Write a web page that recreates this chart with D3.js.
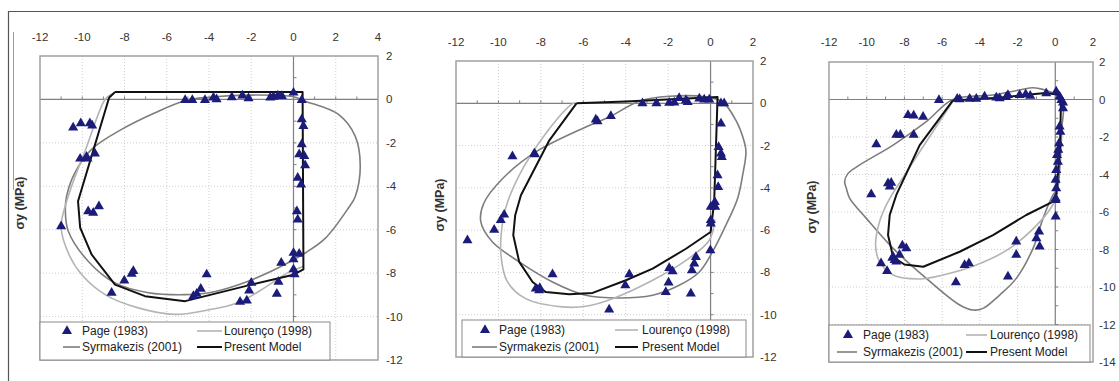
<!DOCTYPE html>
<html>
<head>
<meta charset="utf-8">
<script src="https://cdn.jsdelivr.net/npm/d3@7"></script>
<style>
  body { margin: 0; background: #fff; }
  svg { display: block; font-family: "Liberation Sans", Arial, sans-serif; }
</style>
</head>
<body>
<svg id="chart" width="1119" height="381"></svg>
<script>
// ---- data (sigma_x, sigma_y) in MPa ----
const legendLabels = ["Page (1983)", "Lourenço (1998)", "Syrmakezis (2001)", "Present Model"];
const xTicksA = [-12, -10, -8, -6, -4, -2, 0, 2, 4];
const xTicksBC = [-12, -10, -8, -6, -4, -2, 0, 2];
const yTicksAB = [2, 0, -2, -4, -6, -8, -10, -12];
const yTicksC = [2, 0, -2, -4, -6, -8, -10, -12, -14];

// (a)
const pageA = [[-10.43,-1.3],[-10.07,-1.1],[-9.64,-1.1],[-9.53,-1.2],
  [-10.1,-2.73],[-9.8,-2.64],[-9.75,-2.73],[-9.4,-2.49],
  [-5.13,-0.03],[-4.79,-0.03],[-4.19,-0.03],[-3.79,0.08],[-3.64,0],[-2.92,0.1],[-2.42,0.18],[-2.13,0.05],
  [-1.1,0.08],[-0.95,0.12],[-0.74,0.18],[-0.55,0.15],[0,0.31],[0.39,-0.03],
  [0.39,-0.92],[0.47,-1.23],[0.39,-2.07],[0.27,-2.53],[0.51,-2.61],[0.55,-3.04],[0.2,-3.61],[0.36,-3.92],
  [-9.72,-5.15],[-9.48,-5.22],[-9.21,-4.92],[-11.0,-5.84],
  [0.16,-5.15],[0.2,-5.53],[0,-7.07],[0.27,-7.11],[0,-7.37],[0,-7.83],[0.05,-8.06],[-0.58,-7.52],[-0.71,-8.4],[-0.79,-8.95],
  [-7.58,-7.91],[-7.66,-8.03],[-8.01,-8.34],[-8.61,-8.91],
  [-4.11,-8.06],[-4.39,-8.72],[-4.58,-8.95],[-4.74,-9.06],
  [-2.0,-8.45],[-2.1,-8.8],[-2.21,-9.26],[-2.53,-9.32]];
const lourencoA = [[-8.6,0.25],[-8.92,0],[-9.8,-2.2],[-10.66,-4.45],[-11.0,-5.9],[-10.6,-7.2],[-10.0,-8.1],
  [-8.9,-9.0],[-7.35,-9.6],[-5.6,-9.9],[-4.18,-9.72],[-2.6,-9.35],[-1.25,-8.6],[-0.3,-8.0],[0.45,-7.7]];
const syrmakezisA = [[-5.1,-0.05],[-4,0.1],[-2,0.2],[0,0.12],[0.55,-0.08],[2.13,-0.69],[2.92,-1.69],[3.16,-3.07],
  [2.92,-4.48],[2.6,-5.0],[1.5,-6.4],[0.55,-7.07],[-1.03,-7.9],[-2.6,-8.53],[-4.0,-8.9],[-5.13,-8.99],[-6.87,-8.9],
  [-8.45,-8.45],[-9.72,-7.45],[-10.66,-6.07],[-10.8,-5.15],[-10.74,-4.45],[-10.35,-3.38],[-9.56,-2.3],[-8.14,-1.38],[-6.55,-0.61]];
const presentA = [[-8.45,0.34],[0.43,0.34],[0.47,-7.83],[0,-8.07],[-1.99,-8.53],[-5.13,-9.29],[-7.03,-9.06],
  [-8.45,-8.53],[-9.56,-7.14],[-10.1,-5.9],[-10.2,-4.69],[-8.73,0.08],[-8.45,0.34]];

// (b)
const pageB = [[-9.34,-2.51],[-8.31,-2.38],[-8.28,-2.41],
  [-5.41,-0.77],[-5.33,-0.85],[-4.7,-0.6],
  [-3.21,0],[-2.55,0],[-1.95,0.02],[-1.71,0.03],[-1.48,0.25],[-1.16,0.14],[-1.08,0.06],[-0.53,0.22],[-0.3,0.17],[-0.06,0.17],[0.49,0],[0.64,0],
  [0.49,-0.96],[0.38,-2.07],[0.49,-2.38],[0.53,-2.54],[0.33,-3.41],[0.36,-3.96],[0.2,-4.67],
  [0.22,-4.9],[0.01,-4.9],[0.01,-5.53],[0.01,-5.69],[-0.01,-6.95],
  [-11.46,-6.48],[-10.2,-5.98],[-9.89,-5.53],[-9.73,-5.27],
  [-8.24,-8.77],[-8.08,-8.85],[-8.05,-8.74],[-7.45,-8.09],
  [-3.83,-8.09],[-4.02,-8.61],[-4.78,-9.76],
  [-1.95,-7.79],[-1.79,-7.95],[-1.98,-8.48],[-2.11,-8.93],
  [-0.69,-7.27],[-0.77,-7.58],[-0.88,-7.9],[-0.93,-9.0]];
const lourencoB = [[-6.4,0.02],[-6.59,-0.08],[-7.77,-1.43],[-8.8,-3.0],[-9.57,-4.67],[-9.8,-5.6],[-9.88,-7.19],
  [-9.57,-8.45],[-8.71,-9.24],[-6.98,-9.63],[-5.88,-9.6],[-4.62,-9.24],[-2.73,-8.37],[-1.16,-7.43],[-0.06,-6.48],[0.2,-5.5]];
const syrmakezisB = [[-3.36,0.1],[-1.95,0.33],[-0.22,0.3],[0.57,0.06],[1.19,-0.8],[1.59,-1.83],[1.67,-2.3],[1.51,-3.41],
  [1.27,-4.51],[0.72,-5.77],[0.09,-7.03],[-0.53,-7.98],[-1.48,-8.61],[-2.73,-9.08],[-4.31,-9.21],[-5.88,-9.08],
  [-7.45,-8.45],[-9.02,-7.5],[-10.28,-6.56],[-10.83,-5.61],[-10.7,-4.75],[-9.8,-3.56],[-8.24,-2.3],[-5.88,-1.12],[-4.78,-0.65]];
const presentB = [[-6.32,0],[-4,0.08],[0.33,0.3],[0.17,-4.67],[0,-6.09],[-1.16,-6.88],[-2.73,-7.82],[-3.99,-8.37],
  [-5.56,-8.97],[-6.66,-9.03],[-7.77,-8.93],[-8.39,-8.45],[-9.02,-7.5],[-9.3,-6.24],[-9.21,-5.3],[-8.94,-4.35],[-7.6,-1.75],[-6.32,0]];

// (c)
const pageC = [[-6.17,-0.03],
  [-5.2,0.03],[-5.07,0.01],[-4.54,0.03],[-4.19,0.03],[-3.75,0.15],[-3.13,0.1],[-2.95,0.06],[-2.6,0.13],[-2.51,0.24],
  [-1.89,0.24],[-1.57,0.28],[-1.33,0.2],[-0.48,0.33],[0.05,0.42],[0.23,0.15],[0.32,-0.03],[0.41,-0.17],
  [-7.81,-0.83],[-7.51,-0.86],[-7.01,-0.92],[-8.43,-1.89],[-8.22,-1.89],[-7.51,-1.89],[-9.49,-2.39],
  [-8.87,-4.47],[-8.7,-4.44],[-8.78,-4.65],[-9.76,-5.06],
  [0.41,-0.47],[0.23,-1.45],[0.27,-1.72],[0.2,-2.34],[0.16,-2.69],[0.09,-2.96],[0.14,-3.32],[0.05,-3.76],
  [0.02,-4.29],[0.05,-4.74],[0.02,-5.27],[0.02,-5.36],[0.02,-6.25],
  [-9.24,-8.74],[-8.92,-9.15],
  [-8.6,-8.39],[-8.52,-8.56],[-8.43,-8.65],[-8.26,-8.29],[-8.11,-7.79],[-7.9,-7.94],[-8.64,-8.45],
  [-5.27,-9.75],[-4.81,-8.83],[-4.58,-8.74],[-2.51,-9.45],[-2.07,-7.58],[-2.07,-8.29],
  [-0.86,-7.05],[-1.0,-7.4],[-0.83,-7.85]];
const lourencoC = [[-5.4,-0.05],[-6.84,-2.25],[-8.1,-4.2],[-8.87,-5.45],[-9.32,-6.52],[-9.53,-7.76],[-9.32,-8.65],
  [-8.6,-9.36],[-7.19,-9.57],[-5.95,-9.36],[-4.19,-8.83],[-2.42,-7.94],[-0.65,-6.34],[-0.12,-5.6],[0.05,-5.2]];
const syrmakezisC = [[-5.43,0],[-3.3,0.24],[-1.89,0.51],[-1.18,0.63],[-0.65,0.54],[0.05,0.24],[0.41,-0.29],[0.35,-1.5],
  [0.25,-3.5],[0.1,-4.8],[-0.12,-5.09],[-0.65,-6.34],[-1.18,-7.94],[-2.07,-9.54],[-2.95,-10.43],[-3.83,-11.14],
  [-4.36,-11.23],[-5.07,-10.96],[-6.84,-9.54],[-8.6,-7.94],[-10.02,-6.34],[-10.9,-5.27],[-11.08,-4.74],[-11.17,-4.38],
  [-10.99,-3.94],[-10.37,-3.49],[-8.6,-2.43],[-6.84,-1.18]];
const presentC = [[-5.43,-0.05],[-3,0.1],[-1.5,0.25],[-0.5,0.35],[0.2,0.25],[0.3,-0.2],[0.25,-2.5],[0.05,-5.2],
  [-0.12,-5.45],[-1.54,-6.16],[-3.3,-7.23],[-5.07,-8.12],[-7.0,-8.92],[-8.0,-8.8],[-8.6,-8.4],[-8.87,-7.23],
  [-8.78,-6.16],[-8.43,-5.09],[-7.19,-2.43],[-5.43,-0.05]];

// ---- layout ----
const panels = [
  { page: pageA, lour: lourencoA, syrm: syrmakezisA, pres: presentA,
    xDom: [-12, 4], xRange: [40, 378], yDom: [2, -12], yRange: [56, 360],
    xTicks: xTicksA, yTicks: yTicksAB, topY: 41, rightX: 386, titleX: 20, titleY: 203,
    leg: { x: 40, y: 322, w: 290, h: 38, r1: 331, r2: 347, tri: 67, l1: [63, 80], t1: 82, l2: [197, 222], t2: 224 } },
  { page: pageB, lour: lourencoB, syrm: syrmakezisB, pres: presentB,
    xDom: [-12, 2], xRange: [456, 753], yDom: [2, -12], yRange: [61, 357],
    xTicks: xTicksBC, yTicks: yTicksAB, topY: 46, rightX: 760, titleX: 440, titleY: 205,
    leg: { x: 462, y: 320, w: 284, h: 37, r1: 330, r2: 347, tri: 485, l1: [472, 497], t1: 499, l2: [615, 638], t2: 642 } },
  { page: pageC, lour: lourencoC, syrm: syrmakezisC, pres: presentC,
    xDom: [-12, 2], xRange: [829, 1093], yDom: [2, -14], yRange: [62, 362],
    xTicks: xTicksBC, yTicks: yTicksC, topY: 46, rightX: 1099, titleX: 812, titleY: 207,
    leg: { x: 829, y: 325, w: 261, h: 37, r1: 335, r2: 352, tri: 848, l1: [837, 857], t1: 863, l2: [966, 987], t2: 990 } }
];

const svg = d3.select("#chart");
const navy = "#1b1b7a";

// outer frame of the scanned figure
svg.append("line").attr("x1", 8).attr("x2", 1119).attr("y1", 11.5).attr("y2", 11.5)
  .attr("stroke", "#555").attr("stroke-width", 1.2);
svg.append("line").attr("x1", 8.5).attr("x2", 8.5).attr("y1", 11).attr("y2", 381)
  .attr("stroke", "#555").attr("stroke-width", 1.2);
svg.append("line").attr("x1", 13.5).attr("x2", 13.5).attr("y1", 32).attr("y2", 190)
  .attr("stroke", "#999").attr("stroke-width", 1);

function drawPanel(p) {
  const x = d3.scaleLinear().domain(p.xDom).range(p.xRange);
  const y = d3.scaleLinear().domain(p.yDom).range(p.yRange);
  const g = svg.append("g");
  const [x0, x1] = p.xRange, [y0, y1] = p.yRange;

  // dotted grid
  g.selectAll(".gx").data(p.xTicks.slice(1, -1)).join("line")
    .attr("x1", d => x(d)).attr("x2", d => x(d)).attr("y1", y0).attr("y2", y1)
    .attr("stroke", "#cfcfcf").attr("stroke-dasharray", "1,2");
  g.selectAll(".gy").data(p.yTicks.slice(1, -1)).join("line")
    .attr("x1", x0).attr("x2", x1).attr("y1", d => y(d)).attr("y2", d => y(d))
    .attr("stroke", "#cfcfcf").attr("stroke-dasharray", "1,2");

  // zero axes with unit ticks
  g.append("line").attr("x1", x0).attr("x2", x1).attr("y1", y(0)).attr("y2", y(0))
    .attr("stroke", "#808080").attr("stroke-width", 1.2);
  g.append("line").attr("x1", x(0)).attr("x2", x(0)).attr("y1", y0).attr("y2", y1)
    .attr("stroke", "#808080").attr("stroke-width", 1.2);
  g.selectAll(".tx").data(d3.range(p.xDom[0] + 1, p.xDom[1])).join("line")
    .attr("x1", d => x(d)).attr("x2", d => x(d)).attr("y1", y(0) - 3).attr("y2", y(0))
    .attr("stroke", "#808080");
  g.selectAll(".ty").data(d3.range(p.yDom[1] + 1, p.yDom[0])).join("line")
    .attr("x1", x(0)).attr("x2", x(0) + 3).attr("y1", d => y(d)).attr("y2", d => y(d))
    .attr("stroke", "#808080");

  // plot frame
  g.append("rect").attr("x", x0).attr("y", y0).attr("width", x1 - x0).attr("height", y1 - y0)
    .attr("fill", "none").attr("stroke", "#a0a0a0").attr("stroke-width", 1.5);

  // model curves
  const smoothClosed = d3.line().x(d => x(d[0])).y(d => y(d[1])).curve(d3.curveCatmullRomClosed);
  const smooth = d3.line().x(d => x(d[0])).y(d => y(d[1])).curve(d3.curveCatmullRom);
  const straight = d3.line().x(d => x(d[0])).y(d => y(d[1]));
  g.append("path").attr("d", smoothClosed(p.syrm)).attr("fill", "none")
    .attr("stroke", "#7d7d7d").attr("stroke-width", 1.6);
  g.append("path").attr("d", smooth(p.lour)).attr("fill", "none")
    .attr("stroke", "#b4b4b4").attr("stroke-width", 1.6);
  g.append("path").attr("d", straight(p.pres)).attr("fill", "none")
    .attr("stroke", "#111").attr("stroke-width", 2).attr("stroke-linejoin", "round");

  // Page (1983) test points
  const tri = d3.symbol().type(d3.symbolTriangle).size(44);
  g.selectAll(".pt").data(p.page).join("path")
    .attr("d", tri).attr("fill", navy)
    .attr("transform", d => `translate(${x(d[0])},${y(d[1])})`);

  // tick labels: top x, right y
  g.selectAll(".lx").data(p.xTicks).join("text")
    .attr("x", d => x(d)).attr("y", p.topY).attr("text-anchor", "middle")
    .attr("font-size", 11.5).attr("fill", "#333").text(d => d);
  g.selectAll(".ly").data(p.yTicks).join("text")
    .attr("x", p.rightX).attr("y", d => y(d) + 4).attr("text-anchor", "start")
    .attr("font-size", 11.5).attr("fill", "#333").text(d => d);

  // axis title
  g.append("text").attr("transform", `translate(${p.titleX},${p.titleY}) rotate(-90)`)
    .attr("text-anchor", "middle").attr("dy", "0.35em")
    .attr("font-size", 12.5).attr("font-weight", "bold").attr("fill", "#333").text("σy (MPa)");

  // legend
  const L = p.leg;
  const lg = g.append("g");
  lg.append("rect").attr("x", L.x).attr("y", L.y).attr("width", L.w).attr("height", L.h)
    .attr("fill", "#fff").attr("stroke", "#8a8a8a").attr("stroke-width", 1);
  lg.append("path").attr("d", tri).attr("fill", navy).attr("transform", `translate(${L.tri},${L.r1})`);
  const rows = [
    { tx: L.t1, ty: L.r1 },
    { tx: L.t2, ty: L.r1, line: L.l2, col: "#b4b4b4", w: 1.6 },
    { tx: L.t1, ty: L.r2, line: L.l1, col: "#7d7d7d", w: 1.6 },
    { tx: L.t2, ty: L.r2, line: L.l2, col: "#111", w: 2 }
  ];
  rows.forEach((r, i) => {
    if (r.line) {
      lg.append("line").attr("x1", r.line[0]).attr("x2", r.line[1]).attr("y1", r.ty).attr("y2", r.ty)
        .attr("stroke", r.col).attr("stroke-width", r.w);
    }
    lg.append("text").attr("x", r.tx).attr("y", r.ty).attr("dy", "0.35em")
      .attr("font-size", 12).attr("fill", "#222").text(legendLabels[i]);
  });
}

panels.forEach(drawPanel);
</script>
</body>
</html>
